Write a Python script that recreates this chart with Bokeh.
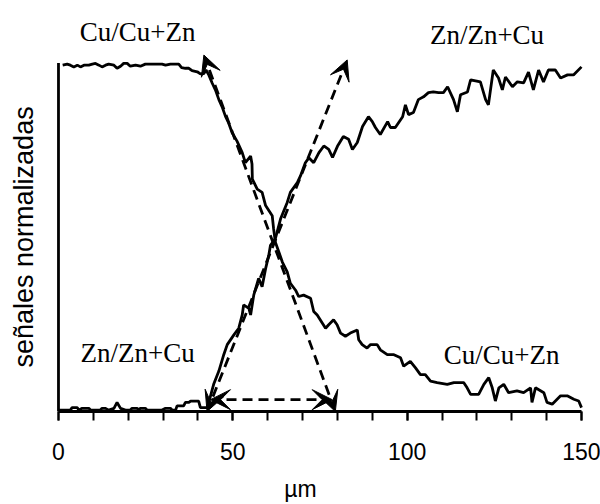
import math
from bokeh.plotting import figure
from bokeh.models import FixedTicker, Arrow, VeeHead, Range1d
from bokeh.core.properties import value
from bokeh.embed import file_html
from bokeh.resources import INLINE

# ---- data (x in µm, y in normalized %) ----
cu_x = [1.2, 2.5, 3.4, 4.4, 5.4, 6.3, 7.3, 8.7, 9.7, 10.6, 11.6, 12.5, 13.5, 14.4, 15.9, 16.8,
        17.8, 18.7, 19.7, 20.6, 22.1, 23.5, 24.9, 26.9, 29.7, 30.7, 32.1, 34.5, 35.3, 36.4, 37.4,
        38.3, 39.8, 40.7, 41.7, 42.3, 43.1, 44.1, 45.0, 46.0, 46.9, 47.9, 48.8, 49.8, 51.2, 52.7,
        53.6, 55.1, 55.5, 55.6, 57.0, 58.4, 59.4, 61.3, 61.7, 62.2, 63.2, 64.2, 65.6, 66.5, 68.0,
        68.9, 70.3, 72.3, 73.2, 74.2, 76.6, 77.5, 78.9, 79.9, 80.9, 82.3, 83.7, 85.7, 86.1, 87.1,
        88.5, 89.5, 91.4, 92.3, 94.3, 96.2, 98.1, 99.0, 100.9, 102.4, 103.8, 105.2, 106.7, 108.6,
        111.5, 113.4, 116.2, 117.2, 118.2, 120.5, 122.0, 123.4, 124.4, 125.3, 126.3, 127.7, 129.1,
        131.5, 133.4, 135.4, 135.8, 136.8, 139.2, 140.1, 141.6, 144.0, 145.9, 147.8, 149.2, 150.0]
cu_y = [99.4, 99.7, 99.4, 98.9, 99.4, 98.9, 99.4, 99.4, 99.7, 99.9, 99.4, 98.9, 99.4, 99.7, 99.4, 98.5,
        99.1, 99.9, 99.9, 99.1, 99.4, 99.1, 99.7, 99.7, 99.7, 99.4, 99.7, 99.7, 98.7, 98.5, 98.5,
        97.8, 97.5, 96.9, 97.0, 98.0, 96.6, 94.2, 92.3, 89.5, 87.5, 84.7, 82.8, 80.0, 77.6, 74.3,
        71.4, 73.3, 71.0, 66.7, 63.8, 62.9, 59.1, 56.2, 52.4, 48.6, 45.8, 42.9, 40.1, 36.8, 34.8,
        33.0, 33.4, 32.5, 28.7, 27.7, 23.9, 24.9, 26.3, 24.9, 22.5, 21.6, 22.5, 23.4, 20.6, 19.2,
        18.2, 19.2, 19.2, 17.7, 16.3, 16.3, 15.4, 13.0, 14.4, 12.5, 10.6, 10.6, 8.7, 8.3,
        7.8, 8.3, 8.3, 6.8, 4.9, 4.9, 7.8, 9.7, 6.8, 3.0, 6.8, 7.8, 5.4,
        5.9, 5.4, 6.8, 2.6, 6.8, 5.4, 2.6, 2.1, 4.5, 4.5, 3.5, 3.0, 1.1]

zn_x = [0.1, 3.4, 3.9, 5.4, 5.8, 6.8, 8.7, 9.2, 12.0, 12.5, 13.5, 14.4, 15.9, 16.8, 17.8, 19.2,
        20.6, 21.1, 22.6, 23.0, 23.5, 24.9, 25.4, 29.7, 30.7, 32.1, 32.6, 33.6, 34.0, 35.9, 36.4,
        37.4, 37.9, 40.2, 40.7, 41.7, 42.7, 44.5, 46.0, 47.4, 48.4, 50.3, 51.7, 52.7, 53.1, 54.6,
        55.1, 56.0, 57.4, 58.4, 59.4, 60.3, 60.8, 62.2, 63.7, 65.6, 66.5, 68.5, 69.4, 70.8, 71.8,
        73.2, 74.7, 76.1, 77.5, 78.6, 80.0, 81.7, 83.2, 84.3, 85.7, 87.2, 88.9, 90.0, 90.9, 92.3,
        94.4, 95.2, 96.6, 98.7, 99.5, 100.4, 101.8, 103.2, 104.7, 106.1, 107.5, 109.0, 110.4, 111.6,
        113.3, 114.4, 115.3, 117.3, 118.2, 121.0, 122.5, 123.3, 124.7, 126.2, 127.3, 128.2, 130.2,
        131.6, 133.4, 134.8, 136.2, 137.7, 139.1, 140.5, 142.5, 144.0, 146.0, 147.7, 150.0]
zn_y = [0.4, 0.4, 1.1, 1.1, 0.4, 0.9, 0.9, 0.4, 0.4, 0.9, 0.9, 0.4, 0.9, 2.6, 0.9, 0.4,
        0.4, 0.9, 0.9, 0.4, 0.9, 0.9, 0.4, 0.4, 0.9, 0.9, 0.4, 0.4, 1.6, 1.6, 2.6,
        2.6, 3.0, 3.0, 1.1, 1.1, 1.1, 7.8, 11.6, 16.3, 19.2, 22.0, 23.9, 27.7, 30.6, 29.6,
        27.7, 33.4, 38.2, 35.8, 41.0, 44.8, 47.7, 49.6, 55.3, 60.0, 62.9, 65.7, 67.6, 71.4, 72.8,
        71.4, 74.3, 76.2, 75.2, 72.9, 76.1, 78.9, 78.1, 75.2, 77.2, 81.8, 84.6, 83.2, 81.5, 79.5,
        83.2, 81.5, 81.5, 84.6, 88.0, 85.2, 85.8, 89.5, 90.3, 91.5, 91.7, 91.5, 91.5, 93.2,
        89.5, 86.0, 90.9, 91.7, 95.2, 94.6, 89.5, 88.0, 98.0, 95.7, 92.3, 96.0, 93.2,
        94.6, 94.3, 97.4, 92.3, 98.0, 94.6, 98.0, 98.0, 95.7, 96.6, 96.6, 98.9]

# dashed double arrows: (x_start, y_start, x_end, y_end)
arrow_x0 = [41.7, 42.6, 43.6]
arrow_y0 = [102.3, 0.0, 3.4]
arrow_x1 = [79.4, 82.8, 78.5]
arrow_y1 = [0.0, 100.9, 3.4]

label_text = ["Cu/Cu+Zn", "Zn/Zn+Cu", "Zn/Zn+Cu", "Cu/Cu+Zn"]
label_x = [22.7, 122.9, 22.7, 127.1]
label_y = [108.8, 108.0, 16.8, 16.2]

x_ticks = [0, 50, 100, 150]
x_minor = [0, 10, 20, 30, 40, 50, 60, 70, 80, 90, 100, 110, 120, 130, 140, 150]
x_bounds = (0, 150)
y_bounds = (0, 100)
y_title = "señales normalizadas"
x_title = "µm"

p = figure(width=600, height=504, output_backend="svg", toolbar_location=None,
           x_range=Range1d(-16.63, 155.45), y_range=Range1d(0, 117.95),
           min_border_left=0, min_border_right=0, min_border_top=0, min_border_bottom=90,
           x_axis_label=x_title)
p.outline_line_color = None
p.grid.visible = False
p.yaxis.visible = False
p.background_fill_color = "white"

# y axis line (drawn only over the data extent)
p.segment(x0=[x_bounds[0]], y0=[y_bounds[0]], x1=[x_bounds[0]], y1=[y_bounds[1]],
          line_color="black", line_width=2.8)
# y axis title
p.text(x=[-10.0], y=[50.1], text=[y_title], angle=math.pi / 2,
       text_align="center", text_baseline="middle",
       text_font=value("Liberation Sans"), text_font_size="27px", text_color="black")

p.line(cu_x, cu_y, line_color="black", line_width=2.8)
p.line(zn_x, zn_y, line_color="black", line_width=2.8)

for xs, ys, xe, ye in zip(arrow_x0, arrow_y0, arrow_x1, arrow_y1):
    p.add_layout(Arrow(x_start=xs, y_start=ys, x_end=xe, y_end=ye,
                       line_color="black", line_width=2.8, line_dash="10 6",
                       start=VeeHead(size=20, fill_color="black", line_color="black", line_width=1),
                       end=VeeHead(size=20, fill_color="black", line_color="black", line_width=1)))

p.text(x=label_x, y=label_y, text=label_text, text_align="center", text_baseline="alphabetic",
       text_font=value("Liberation Serif"), text_font_size="27px", text_color="black")

xa = p.xaxis[0]
xa.bounds = x_bounds
xa.ticker = FixedTicker(ticks=x_ticks, minor_ticks=x_minor)
xa.axis_line_width = 2.8
xa.axis_line_color = "black"
xa.major_tick_line_width = 2
xa.minor_tick_line_width = 2
xa.major_tick_line_color = "black"
xa.minor_tick_line_color = "black"
xa.major_tick_out = 9
xa.major_tick_in = 0
xa.minor_tick_out = 9
xa.minor_tick_in = 0
xa.major_label_text_font = "Liberation Sans"
xa.major_label_text_font_size = "23px"
xa.major_label_text_color = "black"
xa.major_label_standoff = 22
xa.axis_label_text_font = "Liberation Sans"
xa.axis_label_text_font_size = "23px"
xa.axis_label_text_font_style = "normal"
xa.axis_label_text_color = "black"
xa.axis_label_standoff = 13

open("out.html", "w").write(file_html(p, INLINE))
